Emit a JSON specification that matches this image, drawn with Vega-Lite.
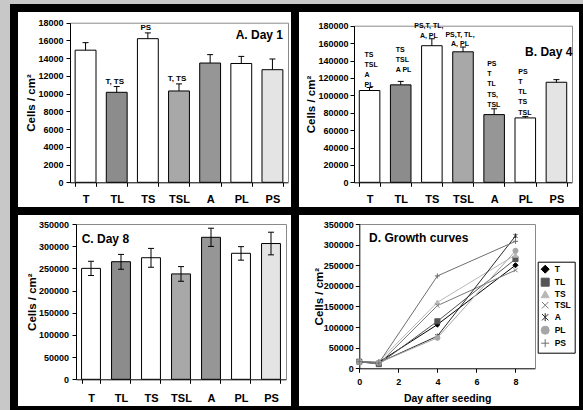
{
  "$schema": "https://vega.github.io/schema/vega-lite/v6.json",
  "background": "#c8c8c8",
  "padding": {"left": 10, "top": 4, "right": 0, "bottom": 0},
  "columns": 2,
  "spacing": 0,
  "bounds": "flush",
  "align": "each",
  "datasets": {
    "day1": [
      {"cat": "T", "value": 14900, "hi": 15750},
      {"cat": "TL", "value": 10150, "hi": 10800, "sig": "T, TS"},
      {"cat": "TS", "value": 16200, "hi": 16850, "sig": "PS"},
      {"cat": "TSL", "value": 10300, "hi": 11100, "sig": "T, TS"},
      {"cat": "A", "value": 13450, "hi": 14400},
      {"cat": "PL", "value": 13400, "hi": 14200},
      {"cat": "PS", "value": 12700, "hi": 13900}
    ],
    "day4": [
      {"cat": "T", "value": 105500, "hi": 109000, "sig": "TS\nTSL\nA\nPL"},
      {"cat": "TL", "value": 112000, "hi": 116000, "sig": "TS\nTSL\nA PL"},
      {"cat": "TS", "value": 157000, "hi": 165000, "sig": "PS,T, TL,\nA, PL"},
      {"cat": "TSL", "value": 150000, "hi": 155500, "sig": "PS,T, TL,\nA, PL"},
      {"cat": "A", "value": 77800, "hi": 84500, "sig": "PS\nT\nTL\nTS,\nTSL"},
      {"cat": "PL", "value": 74000, "hi": 75500, "sig": "PS\nT\nTL\nTS\nTSL"},
      {"cat": "PS", "value": 115000, "hi": 118000}
    ],
    "day8": [
      {"cat": "T", "value": 250000, "lo": 234000, "hi": 266000},
      {"cat": "TL", "value": 265000, "lo": 248000, "hi": 281500},
      {"cat": "TS", "value": 274000, "lo": 252500, "hi": 295000},
      {"cat": "TSL", "value": 237500, "lo": 221000, "hi": 254000},
      {"cat": "A", "value": 320000, "lo": 299500, "hi": 340500},
      {"cat": "PL", "value": 284000, "lo": 268500, "hi": 299000},
      {"cat": "PS", "value": 306000, "lo": 280500, "hi": 331500}
    ],
    "growth": [
      {"series": "T", "day": 0, "cells": 16000},
      {"series": "T", "day": 1, "cells": 14900},
      {"series": "T", "day": 4, "cells": 106000},
      {"series": "T", "day": 8, "cells": 250000},
      {"series": "TL", "day": 0, "cells": 16000},
      {"series": "TL", "day": 1, "cells": 10150},
      {"series": "TL", "day": 4, "cells": 114000},
      {"series": "TL", "day": 8, "cells": 265000},
      {"series": "TS", "day": 0, "cells": 16000},
      {"series": "TS", "day": 1, "cells": 16200},
      {"series": "TS", "day": 4, "cells": 160000},
      {"series": "TS", "day": 8, "cells": 275000},
      {"series": "TSL", "day": 0, "cells": 16000},
      {"series": "TSL", "day": 1, "cells": 10300},
      {"series": "TSL", "day": 4, "cells": 152000},
      {"series": "TSL", "day": 8, "cells": 238000},
      {"series": "A", "day": 0, "cells": 16000},
      {"series": "A", "day": 1, "cells": 13450},
      {"series": "A", "day": 4, "cells": 78000},
      {"series": "A", "day": 8, "cells": 321000},
      {"series": "PL", "day": 0, "cells": 16000},
      {"series": "PL", "day": 1, "cells": 13400},
      {"series": "PL", "day": 4, "cells": 74000},
      {"series": "PL", "day": 8, "cells": 285000},
      {"series": "PS", "day": 0, "cells": 16000},
      {"series": "PS", "day": 1, "cells": 12700},
      {"series": "PS", "day": 4, "cells": 224000},
      {"series": "PS", "day": 8, "cells": 308000}
    ]
  },
  "concat": [
    {
      "width": 281,
      "height": 203,
      "data": {"name": "day1"},
      "layer": [
        {
          "mark": {"type": "bar", "stroke": "black", "strokeWidth": 1},
          "encoding": {
            "x": {"field": "cat", "type": "nominal", "sort": null,
              "scale": {"domain": ["T", "TL", "TS", "TSL", "A", "PL", "PS"], "range": [56, 274], "paddingInner": 0.33, "paddingOuter": 0.165},
              "axis": {"orient": "bottom", "offset": -28.7, "title": null, "labelAngle": 0, "labelFontSize": 11, "tickBand": "extent", "tickSize": 4, "labelPadding": 7.5}},
            "y": {"field": "value", "type": "quantitative",
              "scale": {"domain": [0, 18000], "range": [174.3, 14.7], "nice": false},
              "axis": {"orient": "left", "offset": -56, "values": [0, 2000, 4000, 6000, 8000, 10000, 12000, 14000, 16000, 18000], "format": "d", "title": "Cells / cm²", "tickSize": 4, "labelPadding": 3, "titlePadding": 1}},
            "color": {"field": "cat", "type": "nominal", "scale": {"domain": ["T", "TL", "TS", "TSL", "A", "PL", "PS"], "range": ["#ffffff", "#8c8c8c", "#ffffff", "#a8a8a8", "#969696", "#ffffff", "#e4e4e4"]}, "legend": null}
          }
        },
        {
          "mark": {"type": "rule", "color": "black", "strokeWidth": 1},
          "encoding": {
            "x": {"field": "cat", "type": "nominal", "sort": null, "axis": {"orient": "top", "offset": -14.7, "domainColor": "#8a8a8a", "ticks": false, "labels": false, "title": null}},
            "y": {"field": "value", "type": "quantitative", "axis": {"orient": "right", "offset": -7, "domainColor": "#8a8a8a", "ticks": false, "labels": false, "title": null}},
            "y2": {"field": "hi"}
          }
        },
        {
          "mark": {"type": "tick", "color": "black", "thickness": 1, "size": 6, "opacity": 1},
          "encoding": {
            "x": {"field": "cat", "type": "nominal", "sort": null, "axis": null},
            "y": {"field": "hi", "type": "quantitative", "axis": null}
          }
        },
        {
          "transform": [{"filter": "isValid(datum.sig)"}],
          "mark": {"type": "text", "fontSize": 8, "fontWeight": "bold", "baseline": "bottom", "align": "center", "dx": -2, "dy": -1},
          "encoding": {
            "x": {"field": "cat", "type": "nominal", "sort": null, "axis": null},
            "y": {"field": "hi", "type": "quantitative", "axis": null},
            "text": {"field": "sig"}
          }
        },
        {
          "data": {"values": [{}]},
          "mark": {"type": "text", "fontSize": 12, "fontWeight": "bold", "align": "right", "baseline": "middle", "dx": 10.6},
          "encoding": {
            "x": {"datum": "PS", "type": "nominal", "axis": null},
            "y": {"datum": 16600, "type": "quantitative", "axis": null},
            "text": {"value": "A. Day 1"}
          }
        }
      ],
      "resolve": {"axis": {"x": "independent", "y": "independent"}}
    },
    {
      "width": 288,
      "height": 203,
      "data": {"name": "day4"},
      "layer": [
        {
          "mark": {"type": "bar", "stroke": "black", "strokeWidth": 1},
          "encoding": {
            "x": {"field": "cat", "type": "nominal", "sort": null,
              "scale": {"domain": ["T", "TL", "TS", "TSL", "A", "PL", "PS"], "range": [59, 277], "paddingInner": 0.34, "paddingOuter": 0.17},
              "axis": {"orient": "bottom", "offset": -28.7, "title": null, "labelAngle": 0, "labelFontSize": 11, "tickBand": "extent", "tickSize": 4, "labelPadding": 7.5}},
            "y": {"field": "value", "type": "quantitative",
              "scale": {"domain": [0, 180000], "range": [174.3, 17.7], "nice": false},
              "axis": {"orient": "left", "offset": -59, "values": [0, 20000, 40000, 60000, 80000, 100000, 120000, 140000, 160000, 180000], "format": "d", "title": "Cells / cm²", "tickSize": 4, "labelPadding": 2, "titlePadding": 1}},
            "color": {"field": "cat", "type": "nominal", "scale": {"domain": ["T", "TL", "TS", "TSL", "A", "PL", "PS"], "range": ["#ffffff", "#8c8c8c", "#ffffff", "#a8a8a8", "#969696", "#ffffff", "#e4e4e4"]}, "legend": null}
          }
        },
        {
          "mark": {"type": "rule", "color": "black", "strokeWidth": 1},
          "encoding": {
            "x": {"field": "cat", "type": "nominal", "sort": null, "axis": {"orient": "top", "offset": -17.7, "domainColor": "#8a8a8a", "ticks": false, "labels": false, "title": null}},
            "y": {"field": "value", "type": "quantitative", "axis": {"orient": "right", "offset": -11, "domainColor": "#8a8a8a", "ticks": false, "labels": false, "title": null}},
            "y2": {"field": "hi"}
          }
        },
        {
          "mark": {"type": "tick", "color": "black", "thickness": 1, "size": 6, "opacity": 1},
          "encoding": {
            "x": {"field": "cat", "type": "nominal", "sort": null, "axis": null},
            "y": {"field": "hi", "type": "quantitative", "axis": null}
          }
        },
        {
          "transform": [{"filter": {"field": "cat", "oneOf": ["T"]}}],
          "mark": {"type": "text", "fontSize": 7, "fontWeight": "bold", "baseline": "bottom", "align": "left", "dx": -5, "dy": -29.6, "lineBreak": "\n", "lineHeight": 10.2},
          "encoding": {
            "x": {"field": "cat", "type": "nominal", "sort": null, "axis": null},
            "y": {"field": "hi", "type": "quantitative", "axis": null},
            "text": {"field": "sig"}
          }
        },
        {
          "transform": [{"filter": {"field": "cat", "oneOf": ["TL"]}}],
          "mark": {"type": "text", "fontSize": 7, "fontWeight": "bold", "baseline": "bottom", "align": "left", "dx": -5, "dy": -28.4, "lineBreak": "\n", "lineHeight": 10.2},
          "encoding": {
            "x": {"field": "cat", "type": "nominal", "sort": null, "axis": null},
            "y": {"field": "hi", "type": "quantitative", "axis": null},
            "text": {"field": "sig"}
          }
        },
        {
          "transform": [{"filter": {"field": "cat", "oneOf": ["A", "PL"]}}],
          "mark": {"type": "text", "fontSize": 7, "fontWeight": "bold", "baseline": "bottom", "align": "left", "dx": -7, "dy": -41.8, "lineBreak": "\n", "lineHeight": 10.2},
          "encoding": {
            "x": {"field": "cat", "type": "nominal", "sort": null, "axis": null},
            "y": {"field": "hi", "type": "quantitative", "axis": null},
            "text": {"field": "sig"}
          }
        },
        {
          "transform": [{"filter": {"field": "cat", "oneOf": ["TS", "TSL"]}}],
          "mark": {"type": "text", "fontSize": 7, "fontWeight": "bold", "baseline": "bottom", "align": "center", "dx": -3, "dy": -9.5, "lineBreak": "\n", "lineHeight": 9.5},
          "encoding": {
            "x": {"field": "cat", "type": "nominal", "sort": null, "axis": null},
            "y": {"field": "hi", "type": "quantitative", "axis": null},
            "text": {"field": "sig"}
          }
        },
        {
          "data": {"values": [{}]},
          "mark": {"type": "text", "fontSize": 12, "fontWeight": "bold", "align": "right", "baseline": "middle", "dx": 16},
          "encoding": {
            "x": {"datum": "PS", "type": "nominal", "axis": null},
            "y": {"datum": 150000, "type": "quantitative", "axis": null},
            "text": {"value": "B. Day 4"}
          }
        }
      ],
      "resolve": {"axis": {"x": "independent", "y": "independent"}}
    },
    {
      "width": 281,
      "height": 199,
      "data": {"name": "day8"},
      "layer": [
        {
          "mark": {"type": "bar", "stroke": "black", "strokeWidth": 1},
          "encoding": {
            "x": {"field": "cat", "type": "nominal", "sort": null,
              "scale": {"domain": ["T", "TL", "TS", "TSL", "A", "PL", "PS"], "range": [62, 272], "paddingInner": 0.37, "paddingOuter": 0.185},
              "axis": {"orient": "bottom", "offset": -30.7, "title": null, "labelAngle": 0, "labelFontSize": 11, "tickBand": "extent", "tickSize": 4, "labelPadding": 9}},
            "y": {"field": "value", "type": "quantitative",
              "scale": {"domain": [0, 350000], "range": [168.3, 13], "nice": false},
              "axis": {"orient": "left", "offset": -62, "values": [0, 50000, 100000, 150000, 200000, 250000, 300000, 350000], "format": "d", "title": "Cells / cm²", "tickSize": 4, "labelPadding": 3.5, "titlePadding": 1}},
            "color": {"field": "cat", "type": "nominal", "scale": {"domain": ["T", "TL", "TS", "TSL", "A", "PL", "PS"], "range": ["#ffffff", "#8c8c8c", "#ffffff", "#a8a8a8", "#969696", "#ffffff", "#e4e4e4"]}, "legend": null}
          }
        },
        {
          "mark": {"type": "rule", "color": "black", "strokeWidth": 1},
          "encoding": {
            "x": {"field": "cat", "type": "nominal", "sort": null, "axis": {"orient": "top", "offset": -13, "domainColor": "#8a8a8a", "ticks": false, "labels": false, "title": null}},
            "y": {"field": "lo", "type": "quantitative", "axis": {"orient": "right", "offset": -9, "domainColor": "#8a8a8a", "ticks": false, "labels": false, "title": null}},
            "y2": {"field": "hi"}
          }
        },
        {
          "mark": {"type": "tick", "color": "black", "thickness": 1, "size": 6, "opacity": 1},
          "encoding": {
            "x": {"field": "cat", "type": "nominal", "sort": null, "axis": null},
            "y": {"field": "hi", "type": "quantitative", "axis": null}
          }
        },
        {
          "mark": {"type": "tick", "color": "black", "thickness": 1, "size": 6, "opacity": 1},
          "encoding": {
            "x": {"field": "cat", "type": "nominal", "sort": null, "axis": null},
            "y": {"field": "lo", "type": "quantitative", "axis": null}
          }
        },
        {
          "data": {"values": [{}]},
          "mark": {"type": "text", "fontSize": 12, "fontWeight": "bold", "align": "left", "baseline": "middle", "dx": -9.3},
          "encoding": {
            "x": {"datum": "T", "type": "nominal", "axis": null},
            "y": {"datum": 316000, "type": "quantitative", "axis": null},
            "text": {"value": "C. Day 8"}
          }
        }
      ],
      "resolve": {"axis": {"x": "independent", "y": "independent"}}
    },
    {
      "width": 288,
      "height": 199,
      "data": {"name": "growth"},
      "layer": [
        {
          "mark": {"type": "line", "strokeWidth": 1},
          "encoding": {
            "x": {"field": "day", "type": "quantitative",
              "scale": {"domain": [0, 9], "range": [64.3, 240], "nice": false, "zero": false},
              "axis": {"orient": "bottom", "offset": -41.7, "values": [0, 2, 4, 6, 8], "format": "d", "title": "Day after seeding", "titleFontSize": 10.5, "tickSize": 4, "labelPadding": 5.5, "titlePadding": 7}},
            "y": {"field": "cells", "type": "quantitative",
              "scale": {"domain": [0, 350000], "range": [157.3, 13], "nice": false},
              "axis": {"orient": "left", "offset": -64.3, "values": [0, 50000, 100000, 150000, 200000, 250000, 300000, 350000], "format": "d", "title": "Cells / cm²", "tickSize": 4, "labelPadding": 2, "titlePadding": -1}},
            "color": {"field": "series", "type": "nominal",
              "scale": {"domain": ["T", "TL", "TS", "TSL", "A", "PL", "PS"], "range": ["#000000", "#555555", "#b8b8b8", "#7a7a7a", "#2a2a2a", "#a6a6a6", "#6e6e6e"]},
              "legend": {
                "orient": "none", "legendX": 242.7, "legendY": 50.7, "title": null,
                "padding": 3, "rowPadding": 0, "symbolSize": 64, "symbolStrokeWidth": 1,
                "labelFontSize": 8.5, "labelFontWeight": "bold", "labelOffset": 5, "labelColor": "black",
                "strokeColor": "black", "fillColor": "white",
                "encode": {
                  "symbols": {
                    "update": {
                      "shape": {"signal": "datum.value==='T'?'M-1.5,0H1.5M0,-0.55L0.55,0L0,0.55L-0.55,0Z':datum.value==='TL'?'M-1.5,0H1.5M-0.45,-0.45H0.45V0.45H-0.45Z':datum.value==='TS'?'M-1.5,0H1.5M0,-0.55L0.55,0.45H-0.55Z':datum.value==='TSL'?'M-1.5,0H1.5M-0.45,-0.45L0.45,0.45M-0.45,0.45L0.45,-0.45':datum.value==='A'?'M-1.5,0H1.5M-0.45,-0.45L0.45,0.45M-0.45,0.45L0.45,-0.45M0,-0.6V0.6':datum.value==='PL'?'M-1.5,0H1.5M0.5,0A0.5,0.5,0,1,1,-0.5,0A0.5,0.5,0,1,1,0.5,0Z':'M-1.5,0H1.5M0,-0.6V0.6'"},
                      "stroke": {"signal": "datum.value==='T'?'#000000':datum.value==='TL'?'#555555':datum.value==='TS'?'#b8b8b8':datum.value==='TSL'?'#7a7a7a':datum.value==='A'?'#2a2a2a':datum.value==='PL'?'#a6a6a6':'#6e6e6e'"},
                      "fill": {"signal": "datum.value==='T'?'#000000':datum.value==='TL'?'#555555':datum.value==='TS'?'#b8b8b8':datum.value==='TSL'?'#7a7a7a':datum.value==='A'?'#2a2a2a':datum.value==='PL'?'#a6a6a6':'#6e6e6e'"}
                    }
                  }
                }
              }},
            "order": {"field": "day"}
          }
        },
        {
          "mark": {"type": "point", "filled": true, "opacity": 1, "size": 26, "strokeWidth": 1},
          "encoding": {
            "x": {"field": "day", "type": "quantitative", "axis": {"orient": "top", "offset": -13, "domainColor": "#8a8a8a", "ticks": false, "labels": false, "title": null}},
            "y": {"field": "cells", "type": "quantitative", "axis": {"orient": "right", "offset": -48, "domainColor": "#8a8a8a", "ticks": false, "labels": false, "title": null}},
            "color": {"field": "series", "type": "nominal"},
            "stroke": {"field": "series", "type": "nominal", "scale": {"domain": ["T", "TL", "TS", "TSL", "A", "PL", "PS"], "range": ["#000000", "#555555", "#b8b8b8", "#7a7a7a", "#2a2a2a", "#a6a6a6", "#6e6e6e"]}, "legend": null},
            "shape": {"field": "series", "type": "nominal", "scale": {"domain": ["T", "TL", "TS", "TSL", "A", "PL", "PS"], "range": ["diamond", "square", "triangle-up", "M-0.8,-0.8L0.8,0.8M-0.8,0.8L0.8,-0.8", "M-0.8,-0.8L0.8,0.8M-0.8,0.8L0.8,-0.8M0,-1V1", "circle", "M-1,0H1M0,-1V1"]}, "legend": null}
          }
        },
        {
          "data": {"values": [{}]},
          "mark": {"type": "text", "fontSize": 12, "fontWeight": "bold", "align": "left", "baseline": "middle"},
          "encoding": {
            "x": {"datum": 0.5, "type": "quantitative", "axis": null},
            "y": {"datum": 315000, "type": "quantitative", "axis": null},
            "text": {"value": "D. Growth curves"}
          }
        }
      ],
      "resolve": {"axis": {"x": "independent", "y": "independent"}}
    }
  ],
  "resolve": {"scale": {"color": "independent", "shape": "independent", "stroke": "independent"}},
  "config": {
    "font": "Liberation Sans",
    "view": {"fill": "white", "stroke": "black", "strokeWidth": 8},
    "axis": {"grid": false, "domainColor": "black", "tickColor": "black", "labelColor": "black", "titleColor": "black", "labelFontWeight": "bold", "titleFontWeight": "bold", "labelFontSize": 9, "titleFontSize": 11.5, "labelFont": "Liberation Sans", "titleFont": "Liberation Sans", "labelOverlap": false, "labelFlush": false, "domainWidth": 1, "tickWidth": 1, "labelLimit": 0},
    "text": {"font": "Liberation Sans", "color": "black"}
  }
}
